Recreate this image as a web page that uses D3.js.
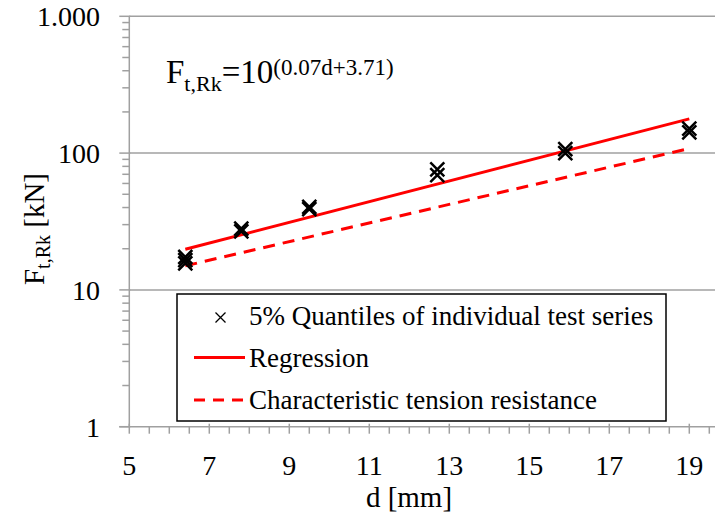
<!DOCTYPE html>
<html>
<head>
	<meta charset="utf-8">
	<style>
		body { margin: 0; background: #fff; }
		text { font-family: 'Liberation Serif', 'Times New Roman', serif; fill: #000; }
	</style>
</head>
<body>
	<script src="https://d3js.org/d3.v7.min.js"></script>

	<script>
		// 5% quantiles (several series per diameter)
		const testD = [6.4, 6.4, 6.4, 7.8, 7.8, 9.5, 9.5, 12.7, 12.7, 15.9, 15.9, 19.0, 19.0];
		const testF = [15.6, 16.5, 17.4, 26.8, 28.0, 39.0, 40.5, 69.0, 76.0, 100, 107, 142, 151];

		const regD = [6.4, 19.0];
		const regF = [19.8, 178];

		const charD = [6.4, 19.0];
		const charF = [15.0, 108];

		const xTicks = [5, 7, 9, 11, 13, 15, 17, 19];
		const yTicks = [1, 10, 100, 1000];
		const yTickLabels = ['1', '10', '100', '1.000'];

		const legendLabels = [
			'5% Quantiles of individual test series',
			'Regression',
			'Characteristic tension resistance'
		];

		const w = 715;
		const h = 516;
		const grey = '#a0a0a0';
		const red = '#ff0000';

		const svg = d3.select('body')
			.append('svg')
			.attr('width', w)
			.attr('height', h)
			.attr('font-family', "'Liberation Serif', 'Times New Roman', serif");

		const x = d3.scaleLinear()
			.domain([5, 20])
			.range([129.3, 729.3]);

		const y = d3.scaleLog()
			.domain([1, 1000])
			.range([426.7, 16.3]);

		// horizontal grid lines on the decades
		svg.append('g').selectAll('line')
			.data(yTicks.slice(1))
			.join('line')
			.attr('x1', x(5)).attr('x2', x(20))
			.attr('y1', d => y(d)).attr('y2', d => y(d))
			.attr('stroke', grey).attr('stroke-width', 1.5);

		// y axis: line, minor ticks (left only), major ticks (crossing)
		const yMinor = [];
		[1, 10, 100].forEach(base => {
			for (let k = 2; k <= 9; k++) yMinor.push(base * k);
		});

		const yAxis = svg.append('g');
		yAxis.append('line')
			.attr('x1', x(5)).attr('x2', x(5))
			.attr('y1', y(1000)).attr('y2', y(1))
			.attr('stroke', grey).attr('stroke-width', 1.5);
		yAxis.selectAll('.minor')
			.data(yMinor)
			.join('line')
			.attr('class', 'minor')
			.attr('x1', x(5) - 7).attr('x2', x(5))
			.attr('y1', d => y(d)).attr('y2', d => y(d))
			.attr('stroke', grey).attr('stroke-width', 1.5);
		yAxis.selectAll('.major')
			.data(yTicks)
			.join('line')
			.attr('class', 'major')
			.attr('x1', x(5) - 10).attr('x2', x(5) + 1)
			.attr('y1', d => y(d)).attr('y2', d => y(d))
			.attr('stroke', grey).attr('stroke-width', 1.5);
		yAxis.selectAll('text')
			.data(yTicks)
			.join('text')
			.attr('x', 100)
			.attr('y', d => y(d) + 10)
			.attr('text-anchor', 'end')
			.attr('font-size', 28)
			.text((d, i) => yTickLabels[i]);

		// x axis
		const xMinor = d3.range(5.5, 20, 1);
		const xAxis = svg.append('g');
		xAxis.append('line')
			.attr('x1', x(5) - 10).attr('x2', x(20))
			.attr('y1', y(1)).attr('y2', y(1))
			.attr('stroke', grey).attr('stroke-width', 1.5);
		xAxis.selectAll('.minor')
			.data(xMinor.concat(d3.range(6, 20, 2)))
			.join('line')
			.attr('class', 'minor')
			.attr('x1', d => x(d)).attr('x2', d => x(d))
			.attr('y1', y(1)).attr('y2', y(1) + 7)
			.attr('stroke', grey).attr('stroke-width', 1.5);
		xAxis.selectAll('.major')
			.data(xTicks)
			.join('line')
			.attr('class', 'major')
			.attr('x1', d => x(d)).attr('x2', d => x(d))
			.attr('y1', y(1) - 3).attr('y2', y(1) + 7)
			.attr('stroke', grey).attr('stroke-width', 1.5);
		xAxis.selectAll('text')
			.data(xTicks)
			.join('text')
			.attr('x', d => x(d))
			.attr('y', 475)
			.attr('text-anchor', 'middle')
			.attr('font-size', 28)
			.text(d => d);

		// axis titles
		svg.append('text')
			.attr('x', 409)
			.attr('y', 507)
			.attr('text-anchor', 'middle')
			.attr('font-size', 29)
			.text('d [mm]');

		const yTitle = svg.append('text')
			.attr('transform', 'translate(44, 229) rotate(-90)')
			.attr('text-anchor', 'middle')
			.attr('font-size', 29);
		yTitle.append('tspan').text('F');
		yTitle.append('tspan').attr('font-size', 20).attr('dy', 6).text('t,Rk');
		yTitle.append('tspan').attr('dy', -6).text(' [kN]');

		// regression and characteristic lines
		const line = d3.line()
			.x(d => x(d[0]))
			.y(d => y(d[1]));

		svg.append('path')
			.attr('d', line(d3.zip(regD, regF)))
			.attr('stroke', red)
			.attr('stroke-width', 3)
			.attr('fill', 'none');

		svg.append('path')
			.attr('d', line(d3.zip(charD, charF)))
			.attr('stroke', red)
			.attr('stroke-width', 3)
			.attr('stroke-dasharray', '12,8')
			.attr('fill', 'none');

		// test points as crosses
		const cross = s => `M${-s},${-s}L${s},${s}M${-s},${s}L${s},${-s}`;
		svg.append('g').selectAll('path')
			.data(d3.zip(testD, testF))
			.join('path')
			.attr('transform', d => `translate(${x(d[0])}, ${y(d[1])})`)
			.attr('d', cross(7))
			.attr('stroke', '#000')
			.attr('stroke-width', 2.5)
			.attr('fill', 'none');

		// formula
		const formula = svg.append('text')
			.attr('x', 166)
			.attr('y', 83)
			.attr('font-size', 33);
		formula.append('tspan').text('F');
		formula.append('tspan').attr('font-size', 22).attr('dy', 8).text('t,Rk');
		formula.append('tspan').attr('dy', -8).text('=10');
		formula.append('tspan').attr('font-size', 23).attr('dy', -8).text('(0.07d+3.71)');

		// legend
		const legend = svg.append('g');
		legend.append('rect')
			.attr('x', 177).attr('y', 294)
			.attr('width', 489).attr('height', 127)
			.attr('fill', '#fff')
			.attr('stroke', '#000')
			.attr('stroke-width', 1.5);

		const rowY = [324.5, 366.5, 409];
		legend.selectAll('text')
			.data(legendLabels)
			.join('text')
			.attr('x', 249)
			.attr('y', (d, i) => rowY[i])
			.attr('font-size', 27)
			.text(d => d);

		legend.append('path')
			.attr('transform', `translate(220.5, ${rowY[0] - 7})`)
			.attr('d', cross(5))
			.attr('stroke', '#000')
			.attr('stroke-width', 1.3);

		legend.append('line')
			.attr('x1', 194).attr('x2', 245)
			.attr('y1', rowY[1] - 9).attr('y2', rowY[1] - 9)
			.attr('stroke', red).attr('stroke-width', 3);

		legend.append('line')
			.attr('x1', 194).attr('x2', 245)
			.attr('y1', rowY[2] - 9).attr('y2', rowY[2] - 9)
			.attr('stroke', red).attr('stroke-width', 3)
			.attr('stroke-dasharray', '11,8');
	</script>

</body>
</html>
